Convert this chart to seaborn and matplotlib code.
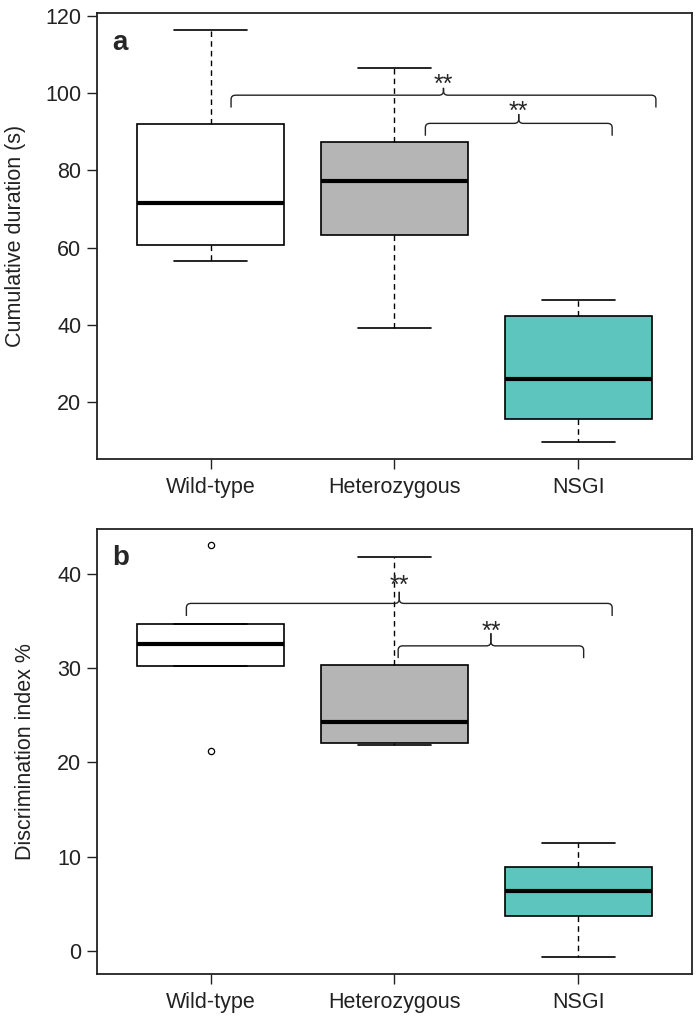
import numpy as np
import pandas as pd
import matplotlib
matplotlib.use("Agg")
import matplotlib.pyplot as plt
from matplotlib.path import Path
from matplotlib.patches import PathPatch
import seaborn as sns

# data (5-number summaries + outliers)
groups = ["Wild-type", "Heterozygous", "NSGI"]
colors = ["#FFFFFF", "#B5B5B5", "#5DC5BE"]

duration_wt = [56.5, 60.6, 71.7, 92.0, 116.4]
duration_het = [39.1, 63.4, 77.4, 87.4, 106.6]
duration_nsgi = [9.6, 15.7, 25.9, 42.3, 46.6]

discrim_wt = [21.2, 30.2, 32.5, 34.7, 43.0]
discrim_het = [21.8, 22.0, 24.3, 30.3, 41.8]
discrim_nsgi = [-0.7, 3.7, 6.4, 8.9, 11.4]

yticks_a = [20, 40, 60, 80, 100, 120]
yticks_b = [0, 10, 20, 30, 40]

sns.set_style("white")
plt.rcParams['font.family'] = ['Liberation Sans', 'DejaVu Sans']
FS = 15.5
STAR_FS = 18


def long_df(values_list):
    rows = []
    for g, vals in zip(groups, values_list):
        for v in vals:
            rows.append({"group": g, "value": v})
    return pd.DataFrame(rows)


def brace(ax, x0, x1, y, leg, tip, rx=0.025, ry=None):
    """curly bracket: legs down at x0/x1, point up at the middle"""
    if ry is None:
        ry = leg * 0.35
    xm = (x0 + x1) / 2
    codes = [Path.MOVETO, Path.LINETO, Path.CURVE3, Path.CURVE3,
             Path.LINETO, Path.CURVE3, Path.CURVE3, Path.LINETO]
    for a, s in ((x0, 1), (x1, -1)):
        verts = [(a, y - leg), (a, y - ry), (a, y), (a + s * rx, y),
                 (xm - s * rx, y), (xm, y), (xm, y + ry), (xm, y + tip)]
        ax.add_patch(PathPatch(Path(verts, codes), fill=False,
                               lw=1.0, edgecolor='#222222', zorder=5))


def draw_panel(ax, df, ylim, yticks, ylabel, letter, label_x):
    sns.boxplot(data=df, x="group", y="value", hue="group", palette=colors,
                order=groups, hue_order=groups, legend=False, ax=ax,
                width=0.8, saturation=1, linecolor='black', linewidth=1.2,
                whis=1.5,
                whiskerprops=dict(linestyle=(0, (4, 3)), linewidth=1.0),
                capprops=dict(linewidth=1.2),
                medianprops=dict(linewidth=3.0, color='black'),
                flierprops=dict(marker='o', markersize=4.5,
                                markerfacecolor='white',
                                markeredgecolor='black',
                                markeredgewidth=0.9))
    ax.set_xlim(-0.62, 2.62)
    ax.set_ylim(*ylim)
    ax.set_yticks(yticks)
    ax.set_xlabel("")
    ax.set_ylabel(ylabel, fontsize=FS, color='#222222')
    ax.yaxis.label.set_va('center')
    ax.yaxis.set_label_coords(label_x, 0.5)
    ax.tick_params(axis='both', labelsize=FS, colors='#222222', length=7,
                   width=1.0, direction='out', left=True, bottom=True)
    ax.tick_params(axis='y', pad=4)
    ax.tick_params(axis='x', pad=6)
    for sp in ax.spines.values():
        sp.set_visible(True)
        sp.set_linewidth(1.3)
        sp.set_color('#222222')
    ax.text(0.026, 0.918, letter, transform=ax.transAxes, fontsize=20,
            fontweight='bold', va='baseline', ha='left')


fig = plt.figure(figsize=(7, 10.23), dpi=100)
ax1 = fig.add_axes([0.1381, 0.5513, 0.8509, 0.4357])
ax2 = fig.add_axes([0.1381, 0.0479, 0.8509, 0.4353])

# panel a
draw_panel(ax1, long_df([duration_wt, duration_het, duration_nsgi]),
           (5.3, 120.7), yticks_a, "Cumulative duration (s)", "a", -0.1355)
brace(ax1, 0.111, 2.422, 99.5, 3.2, 1.9)
ax1.text(1.266, 100.4, "**", ha='center', va='baseline', fontsize=STAR_FS, zorder=6)
brace(ax1, 1.168, 2.184, 92.2, 3.2, 2.4)
ax1.text(1.676, 93.4, "**", ha='center', va='baseline', fontsize=STAR_FS, zorder=6)

# panel b
draw_panel(ax2, long_df([discrim_wt, discrim_het, discrim_nsgi]),
           (-2.45, 44.75), yticks_b, "Discrimination index %", "b", -0.1187)
brace(ax2, -0.132, 2.184, 36.83, 1.33, 1.23)
ax2.text(1.026, 37.9, "**", ha='center', va='baseline', fontsize=STAR_FS, zorder=6)
brace(ax2, 1.02, 2.029, 32.33, 1.3, 1.34)
ax2.text(1.525, 33.1, "**", ha='center', va='baseline', fontsize=STAR_FS, zorder=6)

fig.savefig("out.png", dpi=100)
